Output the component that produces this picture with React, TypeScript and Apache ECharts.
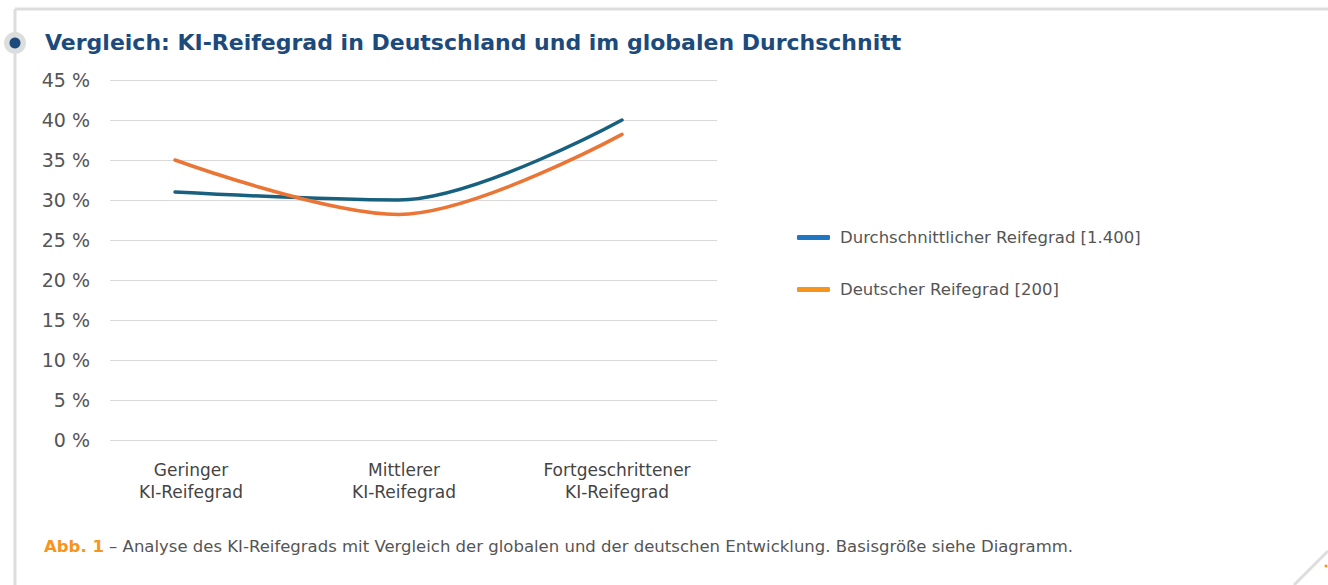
import React, { useEffect, useRef } from "react";
import * as echarts from "echarts";

const categories = ["Geringer\nKI-Reifegrad", "Mittlerer\nKI-Reifegrad", "Fortgeschrittener\nKI-Reifegrad"];
const globalName = "Durchschnittlicher Reifegrad [1.400]";
const germanName = "Deutscher Reifegrad [200]";
const globalValues = [31, 30, 40];
const germanValues = [35, 28.2, 38.2];
const yTicks = { min: 0, max: 45, interval: 5 };
const titleText = "Vergleich: KI-Reifegrad in Deutschland und im globalen Durchschnitt";
const captionLabel = "Abb. 1";
const captionText = " – Analyse des KI-Reifegrads mit Vergleich der globalen und der deutschen Entwicklung. Basisgröße siehe Diagramm.";

const FONT = "'DejaVu Sans', 'Open Sans', sans-serif";

export default function App() {
  const ref = useRef<HTMLDivElement>(null);
  useEffect(() => {
    document.body.style.margin = "0";
    const chart = echarts.init(ref.current!, null, { renderer: "svg" });
    const top = 80;
    const bottom = 585 - 440;
    chart.setOption({
      animation: false,
      backgroundColor: "#ffffff",
      textStyle: { fontFamily: FONT },
      grid: [
        { left: 110, width: 607, top, bottom },
        { left: 175, width: 447, top, bottom },
        { left: 191, width: 426, top, bottom },
      ],
      xAxis: [
        { gridIndex: 0, type: "category", data: categories, show: false },
        { gridIndex: 1, type: "category", data: categories, boundaryGap: false, show: false },
        {
          gridIndex: 2,
          type: "category",
          data: categories,
          boundaryGap: false,
          axisLine: { show: false },
          axisTick: { show: false },
          axisLabel: { color: "#444", fontSize: 17, lineHeight: 22, margin: 19, fontFamily: FONT, interval: 0 },
        },
      ],
      yAxis: [
        {
          gridIndex: 0,
          type: "value",
          ...yTicks,
          axisLine: { show: false },
          axisTick: { show: false },
          axisLabel: { formatter: "{value} %", color: "#555", fontSize: 19, margin: 20, fontFamily: FONT },
          splitLine: { lineStyle: { color: "#d9d9d9", width: 1 } },
        },
        { gridIndex: 1, type: "value", ...yTicks, show: false, splitLine: { show: false } },
        { gridIndex: 2, type: "value", ...yTicks, show: false, splitLine: { show: false } },
      ],
      legend: {
        orient: "vertical",
        left: 792,
        top: 224,
        itemGap: 35,
        itemWidth: 33,
        itemHeight: 5,
        icon: "roundRect",
        textStyle: { color: "#555", fontSize: 16.5, fontFamily: FONT, padding: [0, 0, 0, 5] },
        data: [
          { name: globalName, itemStyle: { color: "#1f77c4" } },
          { name: germanName, itemStyle: { color: "#f7941d" } },
        ],
      },
      series: [
        {
          name: globalName,
          type: "line",
          xAxisIndex: 1,
          yAxisIndex: 1,
          data: globalValues,
          smooth: 0.33,
          symbol: "none",
          lineStyle: { color: "#17607f", width: 3.5, cap: "round" },
          itemStyle: { color: "#17607f" },
        },
        {
          name: germanName,
          type: "line",
          xAxisIndex: 1,
          yAxisIndex: 1,
          data: germanValues,
          smooth: 0.33,
          symbol: "none",
          lineStyle: { color: "#ea7535", width: 3.5, cap: "round" },
          itemStyle: { color: "#ea7535" },
        },
      ],
      graphic: [
        { type: "line", shape: { x1: 15, y1: 9, x2: 1328, y2: 9 }, style: { stroke: "#dddddd", lineWidth: 3 } },
        { type: "line", shape: { x1: 15, y1: 9, x2: 15, y2: 585 }, style: { stroke: "#dddddd", lineWidth: 3 } },
        { type: "line", shape: { x1: 1294, y1: 585, x2: 1328, y2: 551 }, style: { stroke: "#dddddd", lineWidth: 3 } },
        { type: "circle", shape: { cx: 1326, cy: 566, r: 1.5 }, style: { fill: "#f7941d" } },
        { type: "circle", shape: { cx: 15, cy: 43, r: 11 }, style: { fill: "#dddddd" } },
        { type: "circle", shape: { cx: 15, cy: 43, r: 5.5 }, style: { fill: "#1c4a7c" } },
        {
          type: "text",
          left: 45,
          top: 31,
          style: { text: titleText, fill: "#1c4a7c", font: `bold 22px ${FONT}` },
        },
        {
          type: "text",
          left: 44,
          top: 538,
          style: {
            text: `{a|${captionLabel}}{b|${captionText}}`,
            rich: {
              a: { fill: "#f7941d", fontWeight: "bold", fontSize: 16.5, fontFamily: FONT },
              b: { fill: "#555", fontSize: 16.5, fontFamily: FONT },
            },
          },
        },
      ],
    });
    return () => chart.dispose();
  }, []);
  return <div ref={ref} style={{ width: 1328, height: 585 }} />;
}
